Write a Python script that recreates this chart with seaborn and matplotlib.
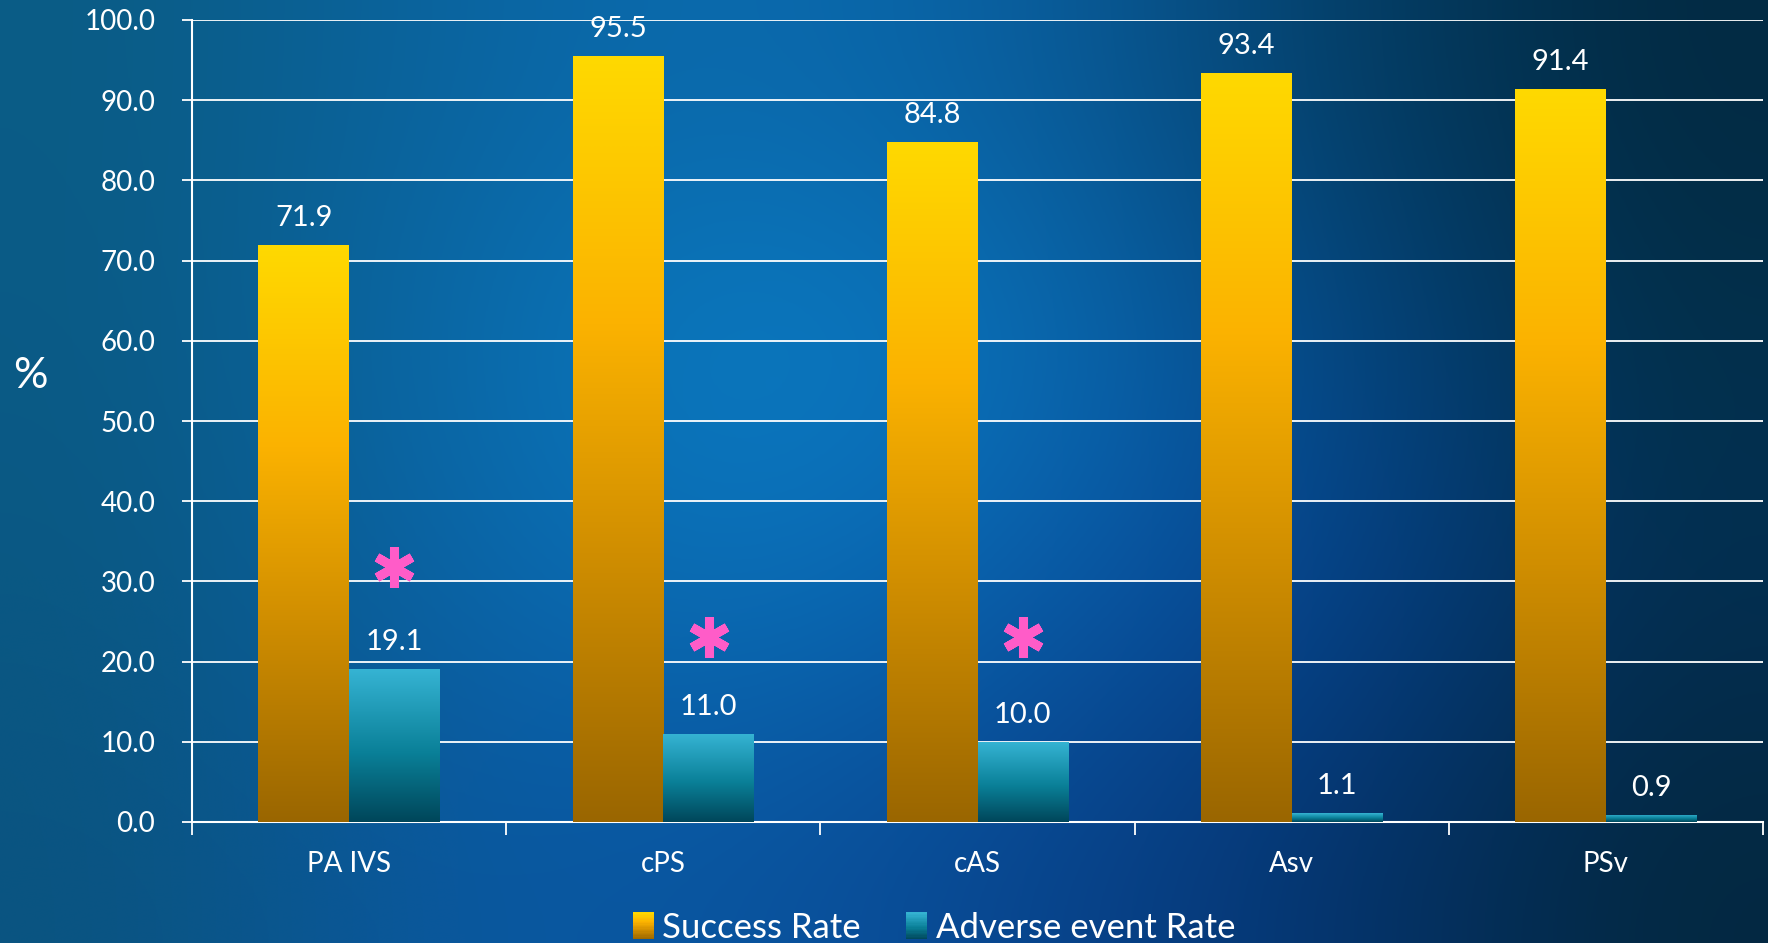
import numpy as np
import pandas as pd
import matplotlib
matplotlib.use("Agg")
import matplotlib.pyplot as plt
import seaborn as sns
from matplotlib.colors import LinearSegmentedColormap, to_rgb
from matplotlib.patches import Rectangle
from matplotlib.legend_handler import HandlerBase

# ---------------- data ----------------
categories = ["PA IVS", "cPS", "cAS", "Asv", "PSv"]
success_rate = [71.9, 95.5, 84.8, 93.4, 91.4]
adverse_rate = [19.1, 11.0, 10.0, 1.1, 0.9]
series_names = ["Success Rate", "Adverse event Rate"]
star_y = [31.8, 23.1, 23.1, None, None]   # pink asterisks above adverse bars
y_ticks = [0, 10, 20, 30, 40, 50, 60, 70, 80, 90, 100]

df = pd.DataFrame({
    "category": categories * 2,
    "value": success_rate + adverse_rate,
    "series": [series_names[0]] * len(categories) + [series_names[1]] * len(categories),
})

# ---------------- style ----------------
sns.set_style("white")
plt.rcParams["font.family"] = ["Lato", "DejaVu Sans"]
W, H = 1768, 943
fig = plt.figure(figsize=(W / 100, H / 100), dpi=100)

# background gradient
bg_hex = [
    ["#0B5C85", "#0A64A0", "#0A6CB0", "#0A5FA0", "#04406A", "#022A42"],
    ["#0A5A85", "#0A68A8", "#0B80C8", "#0A70B8", "#05488A", "#02304A"],
    ["#0A5882", "#0A62A5", "#0A72BA", "#0A5CA8", "#064290", "#032E50"],
    ["#0A5480", "#0A58A0", "#0A55A0", "#08458F", "#053470", "#032840"],
]
bg = np.array([[to_rgb(c) for c in row] for row in bg_hex])
bg_ax = fig.add_axes([0, 0, 1, 1], zorder=-10)
bg_ax.imshow(bg, aspect="auto", interpolation="bicubic", extent=[0, 1, 0, 1])
bg_ax.axis("off")

ax = fig.add_axes([192 / W, 1 - 822 / H, (1763 - 192) / W, (822 - 20) / H])
ax.patch.set_alpha(0)

gold_cmap = LinearSegmentedColormap.from_list(
    "gold", [(0, "#9A6600"), (0.35, "#D08E00"), (0.65, "#FBB200"), (1, "#FFD900")])
teal_cmap = LinearSegmentedColormap.from_list(
    "teal", [(0, "#00465A"), (0.45, "#0A8098"), (1, "#36B4D4")])
cmaps = [gold_cmap, teal_cmap]

sns.barplot(data=df, x="category", y="value", hue="series", order=categories,
            hue_order=series_names, palette=["#F5A800", "#1A90B0"], saturation=1,
            width=0.577, gap=0, errorbar=None, legend=False, ax=ax, zorder=3,
            linewidth=0, edgecolor="none")

grad = np.linspace(1, 0, 256).reshape(-1, 1)
for cont, cmap in zip(ax.containers, cmaps):
    for p in cont.patches:
        p.set_linewidth(0)
        x0, y0 = p.get_x(), p.get_y()
        w, h = p.get_width(), p.get_height()
        im = ax.imshow(grad, cmap=cmap, vmin=0, vmax=1, aspect="auto",
                       extent=[x0, x0 + w, y0, y0 + h], zorder=3.5,
                       interpolation="bilinear")
        im.set_clip_path(p)
    ax.bar_label(cont, fmt="%.1f", padding=10, color="white", fontsize=21)

ax.set_xlim(-0.5, len(categories) - 0.5)
ax.set_ylim(0, 100)
ax.set_aspect("auto")

# asterisks
for i, sy in enumerate(star_y):
    if sy is not None:
        p = ax.containers[1].patches[i]
        xc = p.get_x() + p.get_width() / 2
        ax.plot([xc], [sy], marker=(6, 2, 0), markersize=29, mew=6.5,
                color="#FF5CC8", zorder=5)

# axes styling
ax.set_yticks(y_ticks)
ax.set_yticklabels([f"{v:.1f}" for v in y_ticks])
ax.yaxis.grid(True, color="white", linewidth=1.3)
ax.set_axisbelow(True)
for s in ["top", "right"]:
    ax.spines[s].set_visible(False)
for s in ["left", "bottom"]:
    ax.spines[s].set_color("white")
    ax.spines[s].set_linewidth(1.5)
ax.tick_params(axis="y", colors="white", labelsize=20, length=7.5, width=1.3,
               direction="out", pad=19, left=True)
ax.set_xticks(np.arange(-0.5, len(categories), 1.0), minor=True)
ax.tick_params(axis="x", which="minor", length=9, width=1.3, color="white",
               direction="out", bottom=True)
ax.tick_params(axis="x", which="major", length=0, labelsize=20, labelcolor="white", pad=21)
ax.set_xlabel("")
ax.set_ylabel("")
fig.text(30 / W, 1 - 376 / H, "%", color="white", fontsize=31, ha="center", va="center")


# legend with gradient swatches
class GradHandler(HandlerBase):
    def __init__(self, cmap):
        super().__init__()
        self.cmap = cmap

    def create_artists(self, legend, orig_handle, xdescent, ydescent, width, height,
                       fontsize, trans):
        n = 20
        arts = []
        for k in range(n):
            r = Rectangle((-xdescent, -ydescent + height * k / n), width, height / n + 0.3,
                          facecolor=self.cmap((k + 0.5) / n), edgecolor="none",
                          transform=trans)
            arts.append(r)
        return arts


h1 = Rectangle((0, 0), 1, 1)
h2 = Rectangle((0, 0), 1, 1)
leg = fig.legend([h1, h2], series_names, loc="center",
                 bbox_to_anchor=(934 / W, 1 - 928 / H), ncol=2, frameon=False,
                 fontsize=25, handlelength=0.6, handleheight=0.8, handletextpad=0.25,
                 columnspacing=1.3,
                 handler_map={h1: GradHandler(gold_cmap), h2: GradHandler(teal_cmap)})
for t in leg.get_texts():
    t.set_color("white")

fig.savefig("out.png", dpi=100)
